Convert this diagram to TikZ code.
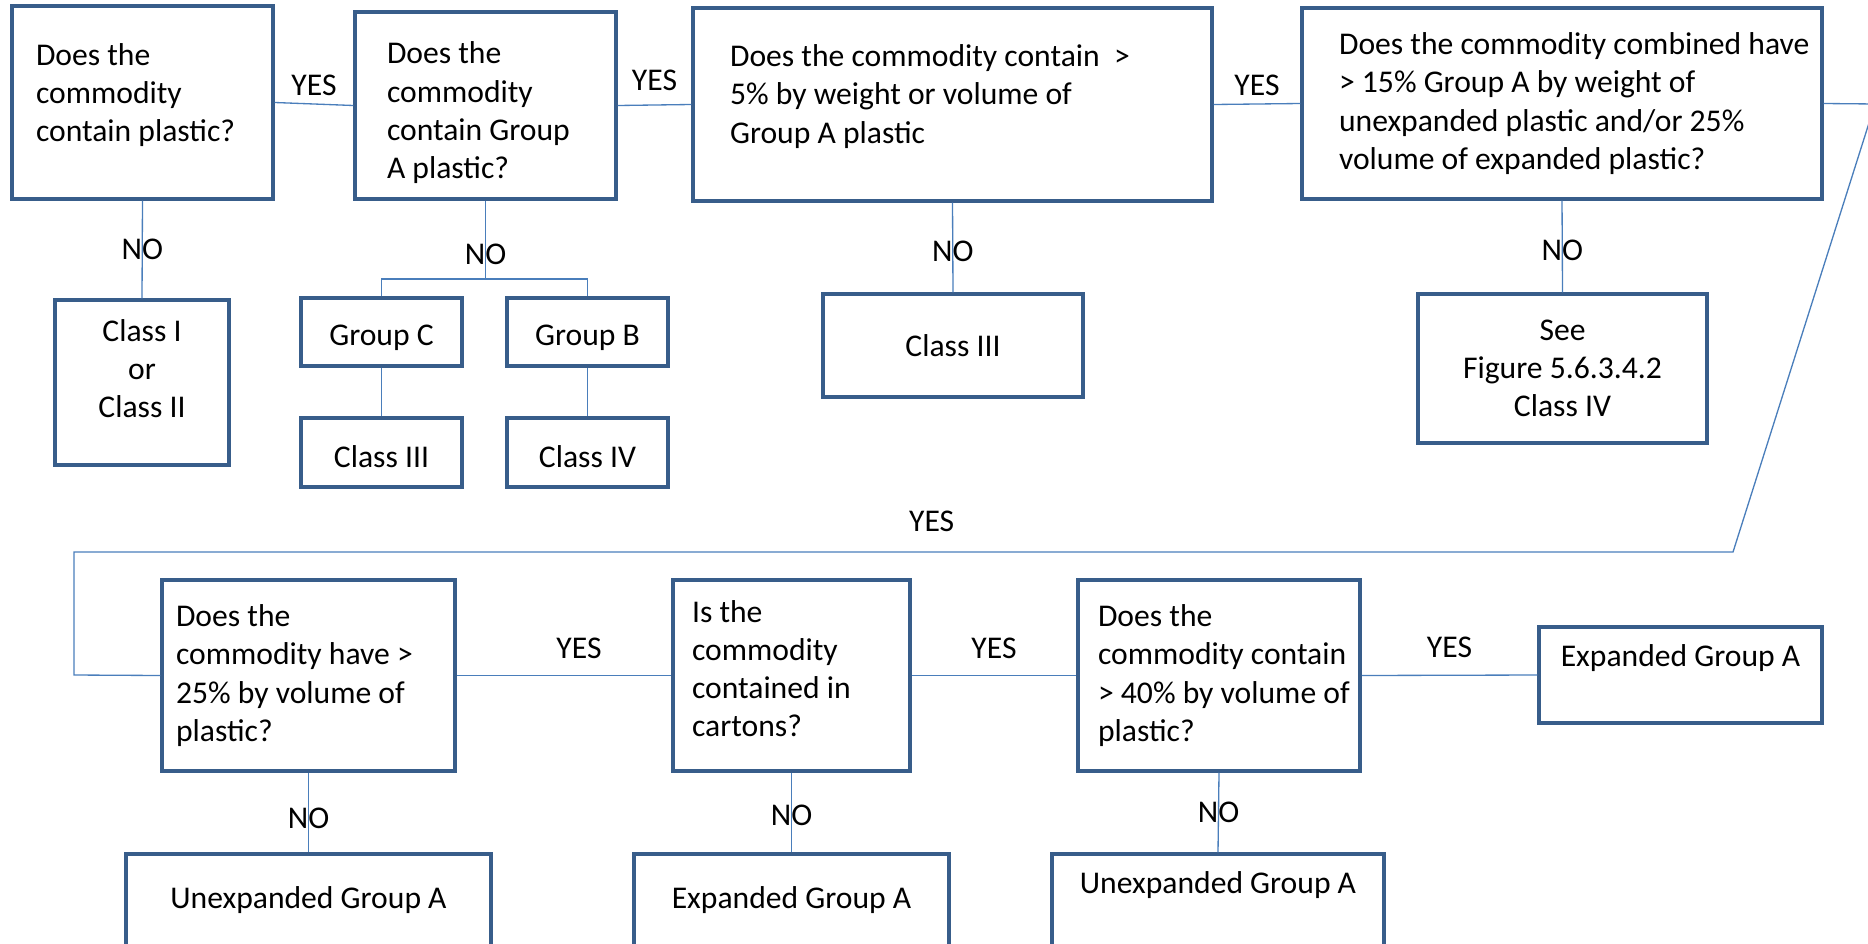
\documentclass[tikz,border=0pt]{standalone}
\usepackage{fontspec}
\setmainfont{Carlito}
\usetikzlibrary{positioning}

\definecolor{boxblue}{HTML}{385D8A}
\definecolor{wireblue}{HTML}{4A7EBB}

\begin{document}
\begin{tikzpicture}[
    x=0.02cm, y=-0.02cm,
    font=\fontsize{18pt}{21.8pt}\selectfont,
    query/.style={
      rectangle,
      draw=boxblue,
      line width=2pt,
      align=left,
      inner sep=0pt,
      execute at begin node={\spaceskip=0pt\xspaceskip=0pt}
    },
    result/.style={
      rectangle,
      draw=boxblue,
      line width=2pt,
      inner sep=0pt
    },
    link/.style={draw=wireblue, line width=0.75pt},
    yeslabel/.style={above, inner sep=4.4pt},
    nolabel/.style={inner sep=0pt}
  ]
    \useasboundingbox (0,0) rectangle (1868,943);
    \clip (0,0) rectangle (1868,943);

    % first row of questions
    \node[query, minimum width=5.22cm, minimum height=3.86cm, text width=4.26cm] (hasplastic) at (142.5,102.5) {Does the\\commodity\\contain plastic?\rule[-0.4cm]{0pt}{0.4cm}};
    \node[query, minimum width=5.22cm, minimum height=3.74cm, text width=3.94cm] (hasgroupa) at (485.5,105.5) {\rule{0pt}{0.74cm}Does the\\commodity\\contain Group\\A plastic?};
    \node[query, minimum width=10.38cm, minimum height=3.86cm, text width=8.9cm] (fivepct) at (952.5,104.5) {Does the commodity contain\ \ >\\5\% by weight or volume of\\Group A plastic\rule[-0.42cm]{0pt}{0.42cm}};
    \node[query, minimum width=10.4cm, minimum height=3.82cm, text width=8.92cm] (combined) at (1562,103.5) {\mbox{Does the commodity combined have}\\> 15\% Group A by weight of\\unexpanded plastic and/or 25\%\\volume of expanded plastic?};

    % answers under the first row
    \node[result, align=center, minimum width=3.48cm, minimum height=3.3cm] (clsone) at (142,382.5) {Class I\\or\\Class II\rule[-0.56cm]{0pt}{0.56cm}};
    \node[result, minimum width=3.22cm, minimum height=1.36cm] (grpc) at (381.5,332) {\rule{0pt}{0.66cm}Group C};
    \node[result, minimum width=3.22cm, minimum height=1.36cm] (grpb) at (587.5,332) {\rule{0pt}{0.66cm}Group B};
    \node[result, minimum width=3.22cm, minimum height=1.38cm] (grpccls) at (381.5,452.5) {\rule{0pt}{0.6cm}Class III};
    \node[result, minimum width=3.22cm, minimum height=1.38cm] (grpbcls) at (587.5,452.5) {\rule{0pt}{0.6cm}Class IV};
    \node[result, minimum width=5.2cm, minimum height=2.06cm] (clsthree) at (953,345.5) {Class III};
    \node[result, align=center, minimum width=5.78cm, minimum height=2.98cm] (seefig) at (1562.5,368.5) {See\\Figure 5.6.3.4.2\\Class IV};

    % second row of questions
    \node[query, minimum width=5.86cm, minimum height=3.82cm, text width=5.3cm] (volume) at (308.5,675.5) {Does the\\commodity have >\\25\% by volume of\\plastic?};
    \node[query, minimum width=4.74cm, minimum height=3.82cm, text width=3.98cm] (cartons) at (791.5,675.5) {Is the\\commodity\\contained in\\cartons?\rule[-0.28cm]{0pt}{0.28cm}};
    \node[query, minimum width=5.64cm, minimum height=3.82cm, text width=4.84cm] (forty) at (1219,675.5) {Does the\\\mbox{commodity contain}\\\mbox{> 40\% by volume of}\\plastic?};
    \node[result, minimum width=5.66cm, minimum height=1.92cm, text depth=0.76cm] (expyes) at (1680.5,675) {Expanded Group A};

    % answers under the second row
    \node[result, minimum width=7.3cm, minimum height=2.2cm, text depth=0.44cm] (unexp) at (308.5,909) {Unexpanded Group A};
    \node[result, minimum width=6.3cm, minimum height=2.2cm, text depth=0.44cm] (expno) at (791.5,909) {Expanded Group A};
    \node[result, minimum width=6.64cm, minimum height=2.2cm, text depth=1.04cm] (unexpno) at (1218,909) {Unexpanded Group A};

    \coordinate (fork) at (485.5,279);
    \coordinate (bendA) at (1875,104);
    \coordinate (bendB) at (1733,552);
    \coordinate (bendC) at (74,552);
    \coordinate (bendD) at (74,675);

    \draw[link] (hasplastic.east) -- node[yeslabel] {YES} (hasgroupa.west);
    \draw[link] (hasgroupa.east) -- node[yeslabel, yshift=3.4pt] {YES} (fivepct.west);
    \draw[link] (fivepct.east) -- node[yeslabel] {YES} (combined.west);
    \draw[link] (combined.east) -- (bendA) -- (bendB)
      -- node[yeslabel, pos=0.483, yshift=6.8pt] {YES} (bendC) -- (bendD) -- (volume.west);
    \draw[link] (volume.east) -- node[yeslabel, pos=0.57, yshift=5pt] {YES} (cartons.west);
    \draw[link] (cartons.east) -- node[yeslabel, yshift=5pt] {YES} (forty.west);
    \draw[link] (forty.east) -- node[yeslabel, yshift=5pt] {YES} (expyes.west);

    \draw[link] (hasplastic.south) -- node[nolabel] {NO} (clsone.north);
    \draw[link] (hasgroupa.south) -- node[nolabel, pos=0.68] {NO} (fork);
    \draw[link] (grpc.north) |- (fork) -| (grpb.north);
    \draw[link] (grpc) -- (grpccls);
    \draw[link] (grpb) -- (grpbcls);
    \draw[link] (fivepct.south) -- node[nolabel, pos=0.54] {NO} (clsthree.north);
    \draw[link] (combined.south) -- node[nolabel, pos=0.54] {NO} (seefig.north);
    \draw[link] (volume.south) -- node[nolabel, pos=0.57] {NO} (unexp.north);
    \draw[link] (cartons.south) -- node[nolabel, pos=0.53] {NO} (expno.north);
    \draw[link] (forty.south) -- node[nolabel] {NO} (unexpno.north);
  \end{tikzpicture}
\end{document}
